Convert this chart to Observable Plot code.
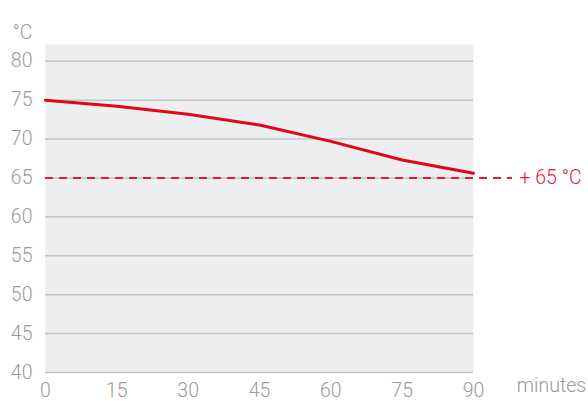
<!DOCTYPE html>
<html>
<head>
<meta charset="utf-8">
<script src="https://cdn.jsdelivr.net/npm/d3@7"></script>
<script src="https://cdn.jsdelivr.net/npm/@observablehq/plot@0.6"></script>
<style>
  html, body { margin: 0; padding: 0; background: #fff; }
  #chart svg { display: block; }
</style>
</head>
<body>
<div id="chart"></div>
<script>
const minutes = [0, 15, 30, 45, 60, 75, 90];
const temperature = [75, 74.2, 73.2, 71.8, 69.7, 67.3, 65.6];
const yTicks = [40, 45, 50, 55, 60, 65, 70, 75, 80];
const xTicks = [0, 15, 30, 45, 60, 75, 90];
const threshold = 65;
const thresholdLabel = "+ 65 °C";
const yUnit = "°C";
const xUnit = "minutes";

const data = minutes.map((m, i) => ({m, t: temperature[i]}));

const font = "Roboto, 'Liberation Sans', sans-serif";
const gray = "#9a9a9a";
const fs = 19.5;

const chart = Plot.plot({
  width: 588,
  height: 401,
  marginLeft: 45,
  marginRight: 115,
  marginTop: 44,
  marginBottom: 29,
  style: {fontFamily: font, fontSize: fs + "px", fontWeight: 300, color: gray, background: "#fff", overflow: "visible"},
  x: {domain: [0, 90], ticks: xTicks, label: null},
  y: {domain: [40, 82.15], ticks: yTicks, label: null},
  marks: [
    Plot.frame({fill: "#edeef0", stroke: null}),
    Plot.gridY(yTicks, {stroke: "#c4c4c4", strokeOpacity: 1, strokeWidth: 1.5}),
    Plot.axisY({ticks: yTicks, tickSize: 0, tickPadding: 13, fill: gray, fontSize: fs}),
    Plot.axisX({ticks: xTicks, tickSize: 0, tickPadding: 11, fill: gray, fontSize: fs}),
    Plot.ruleY([threshold], {x1: 0, x2: 90, insetRight: -39, stroke: "#e5173f", strokeWidth: 2, strokeDasharray: "8,6", clip: false}),
    Plot.line(data, {x: "m", y: "t", stroke: "#e30613", strokeWidth: 3}),
    Plot.text([thresholdLabel], {x: 90, y: threshold, dx: 46, textAnchor: "start", fill: "#e5173f", fontSize: fs, fontWeight: 300}),
    Plot.text([yUnit], {frameAnchor: "top-left", dx: -33, dy: -19, textAnchor: "start", fill: gray, fontSize: fs, fontWeight: 300}),
    Plot.text([xUnit], {x: 90, frameAnchor: "bottom", dx: 78, dy: 19, textAnchor: "middle", fill: gray, fontSize: fs, fontWeight: 300})
  ]
});
document.getElementById("chart").appendChild(chart);
</script>
</body>
</html>
